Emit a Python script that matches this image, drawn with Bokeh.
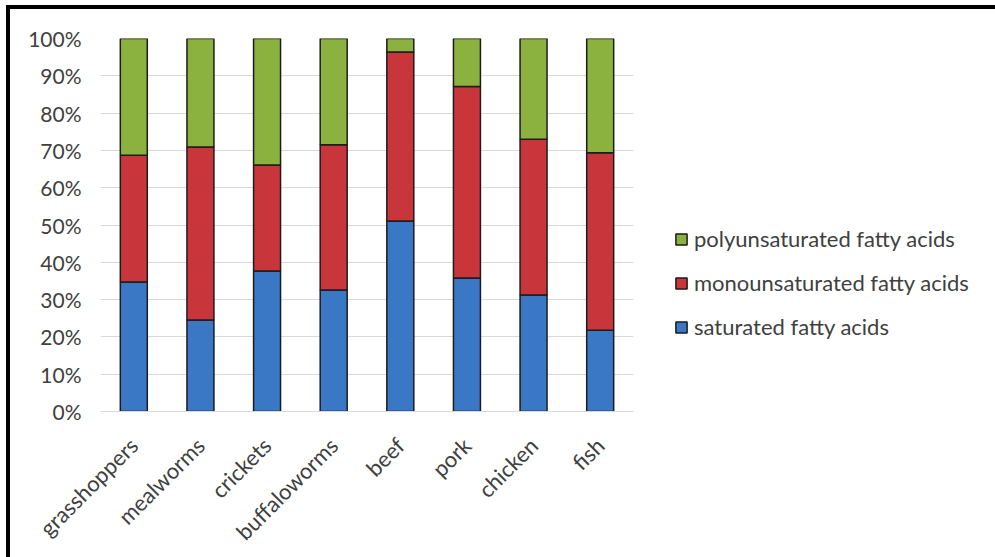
from bokeh.plotting import figure
from bokeh.models import Range1d, Legend, LegendItem, FactorRange, PrintfTickFormatter, FixedTicker
from bokeh.embed import file_html
from bokeh.resources import INLINE
import math

categories = ["grasshoppers", "mealworms", "crickets", "buffaloworms", "beef", "pork", "chicken", "fish"]
saturated = [34.7, 24.5, 37.7, 32.6, 51.1, 35.8, 31.2, 21.8]
monounsaturated = [34.0, 46.4, 28.4, 38.9, 45.3, 51.3, 41.8, 47.6]
polyunsaturated = [31.3, 29.1, 33.9, 28.5, 3.6, 12.9, 27.0, 30.6]
y_ticks = [0, 10, 20, 30, 40, 50, 60, 70, 80, 90, 100]

series = ["saturated", "monounsaturated", "polyunsaturated"]
labels = ["saturated fatty acids", "monounsaturated fatty acids", "polyunsaturated fatty acids"]
colors = ["#3a77c4", "#c8353a", "#8bb23e"]

FONT = "Lato"
TXT = "#404040"

p = figure(x_range=FactorRange(*categories, range_padding=0), y_range=Range1d(0, 100),
           frame_width=533, frame_height=373, output_backend="svg", toolbar_location=None,
           min_border_left=90, min_border_right=0, min_border_top=29, min_border_bottom=138)
p.styles = {"border-top": "4px solid black", "border-left": "4px solid black",
            "margin-top": "5px", "margin-left": "6px"}

data = dict(cat=categories, saturated=saturated, monounsaturated=monounsaturated,
            polyunsaturated=polyunsaturated)
rs = p.vbar_stack(series, x="cat", width=0.405, source=data, color=colors,
                  line_color="#1c1c1c", line_width=1.5)

p.outline_line_color = None
p.xgrid.grid_line_color = None
p.ygrid.grid_line_color = "#d9d9d9"
p.ygrid.grid_line_width = 1
p.yaxis.ticker = FixedTicker(ticks=y_ticks)
p.yaxis.formatter = PrintfTickFormatter(format="%d%%")
p.yaxis.axis_line_color = None
p.yaxis.major_tick_line_color = None
p.yaxis.minor_tick_line_color = None
p.yaxis.major_label_standoff = 13
p.yaxis.major_label_text_font = FONT
p.yaxis.major_label_text_font_size = "21px"
p.yaxis.major_label_text_color = TXT

p.xaxis.axis_line_color = "#d9d9d9"
p.xaxis.major_tick_line_color = None
p.xaxis.major_label_orientation = math.pi / 4
p.xaxis.major_label_standoff = 24
p.xaxis.major_label_text_font = FONT
p.xaxis.major_label_text_font_size = "22px"
p.xaxis.major_label_text_color = TXT

items = [LegendItem(label=labels[i], renderers=[rs[i]]) for i in [2, 1, 0]]
legend = Legend(items=items, location=(41, 71), padding=0, margin=0, border_line_color=None,
                background_fill_alpha=0, glyph_width=14, glyph_height=14, label_height=20,
                spacing=17, label_standoff=6, label_text_font=FONT, label_text_font_size="22px",
                label_text_color=TXT)
p.add_layout(legend, "right")

open("out.html", "w").write(file_html(p, INLINE))
